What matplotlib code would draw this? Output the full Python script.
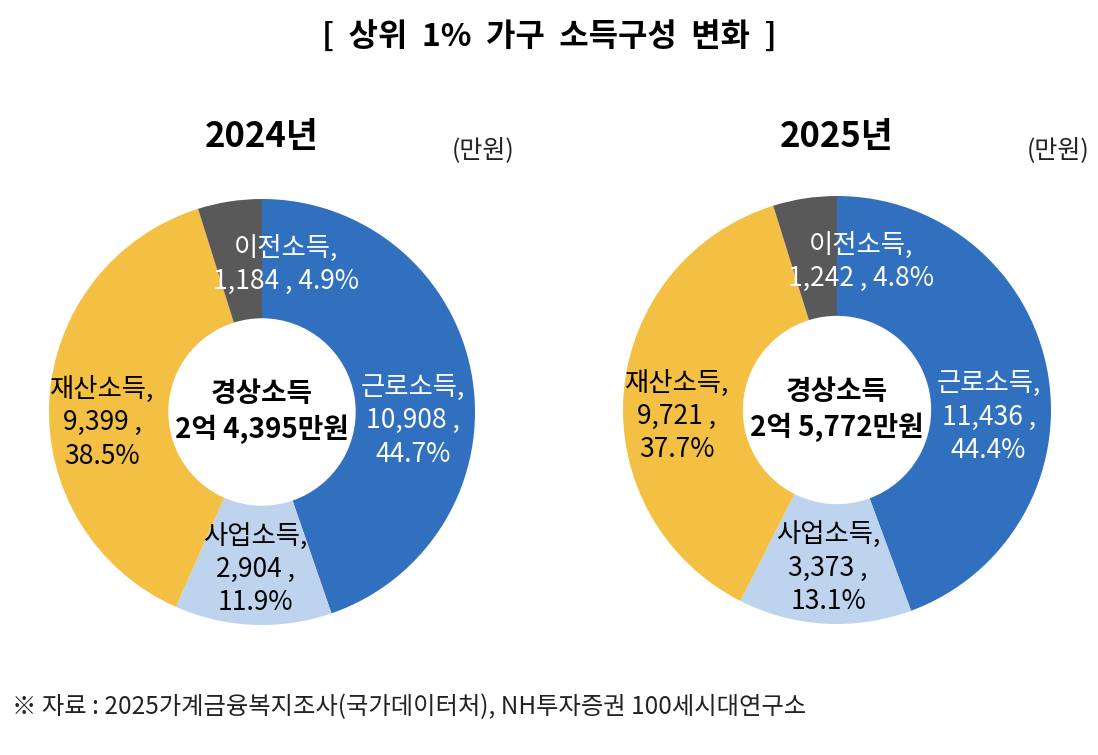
import numpy as np
import matplotlib.pyplot as plt

plt.rcParams['font.family'] = ['Noto Sans CJK KR', 'DejaVu Sans']

# data (만원)
categories = ['근로소득', '사업소득', '재산소득', '이전소득']
years = ['2024년', '2025년']
values_2024 = [10908, 2904, 9399, 1184]
values_2025 = [11436, 3373, 9721, 1242]
shares_2024 = ['44.7%', '11.9%', '38.5%', '4.9%']
shares_2025 = ['44.4%', '13.1%', '37.7%', '4.8%']
totals = ['2억 4,395만원', '2억 5,772만원']

colors = ['#3070BE', '#BDD3EE', '#F3C043', '#595959']
text_colors = ['white', 'black', 'black', 'white']
# label nudges (axes units, radius = 1)
nudges = [(0.0, -0.16), (0.0, -0.02), (-0.03, -0.09), (0.22, -0.02)]

W, H = 1098, 755
fig = plt.figure(figsize=(W / 100, H / 100), dpi=100)

fig.text(549 / W, 1 - 38 / H, '[  상위  1%  가구  소득구성  변화  ]', ha='center', va='center',
         fontsize=23, fontweight='bold')


def label_text(cat, val, share, i):
    if i == 3:
        return f'{cat},\n{val:,} , {share}'
    return f'{cat},\n{val:,} ,\n{share}'


def draw_donut(cx, cy, r, values, shares, year, total):
    ax = fig.add_axes([(cx - r) / W, (H - cy - r) / H, 2 * r / W, 2 * r / H])
    ax.pie(values, colors=colors, startangle=90, counterclock=False, radius=1,
           wedgeprops=dict(width=0.56, edgecolor='none'))
    ax.set_xlim(-1, 1)
    ax.set_ylim(-1, 1)
    ax.set_aspect('equal')
    ax.axis('off')

    frac = np.array(values) / np.sum(values)
    cum = np.cumsum(frac) - frac / 2
    for i, (cat, val, share) in enumerate(zip(categories, values, shares)):
        ang = np.deg2rad(90 - 360 * cum[i])
        x = 0.72 * np.cos(ang) + nudges[i][0]
        y = 0.72 * np.sin(ang) + nudges[i][1]
        ax.text(x, y, label_text(cat, val, share, i), ha='center', va='center',
                multialignment='center', fontsize=19, color=text_colors[i],
                linespacing=1.3)

    ax.text(0, 0, f'경상소득\n{total}', ha='center', va='center', fontsize=20,
            fontweight='bold', linespacing=1.3)

    fig.text(cx / W, 1 - 136 / H, year, ha='center', va='center', fontsize=25,
             fontweight='bold')
    fig.text((cx + 221) / W, 1 - 150 / H, '(만원)', ha='center', va='center',
             fontsize=18, color='#222222')


draw_donut(262, 412, 213, values_2024, shares_2024, years[0], totals[0])
draw_donut(837, 410, 214, values_2025, shares_2025, years[1], totals[1])

fig.text(12 / W, 1 - 707 / H,
         '※ 자료 : 2025가계금융복지조사(국가데이터처), NH투자증권 100세시대연구소',
         ha='left', va='center', fontsize=17.5, color='#222222')

fig.savefig('out.png', dpi=100, facecolor='white')
